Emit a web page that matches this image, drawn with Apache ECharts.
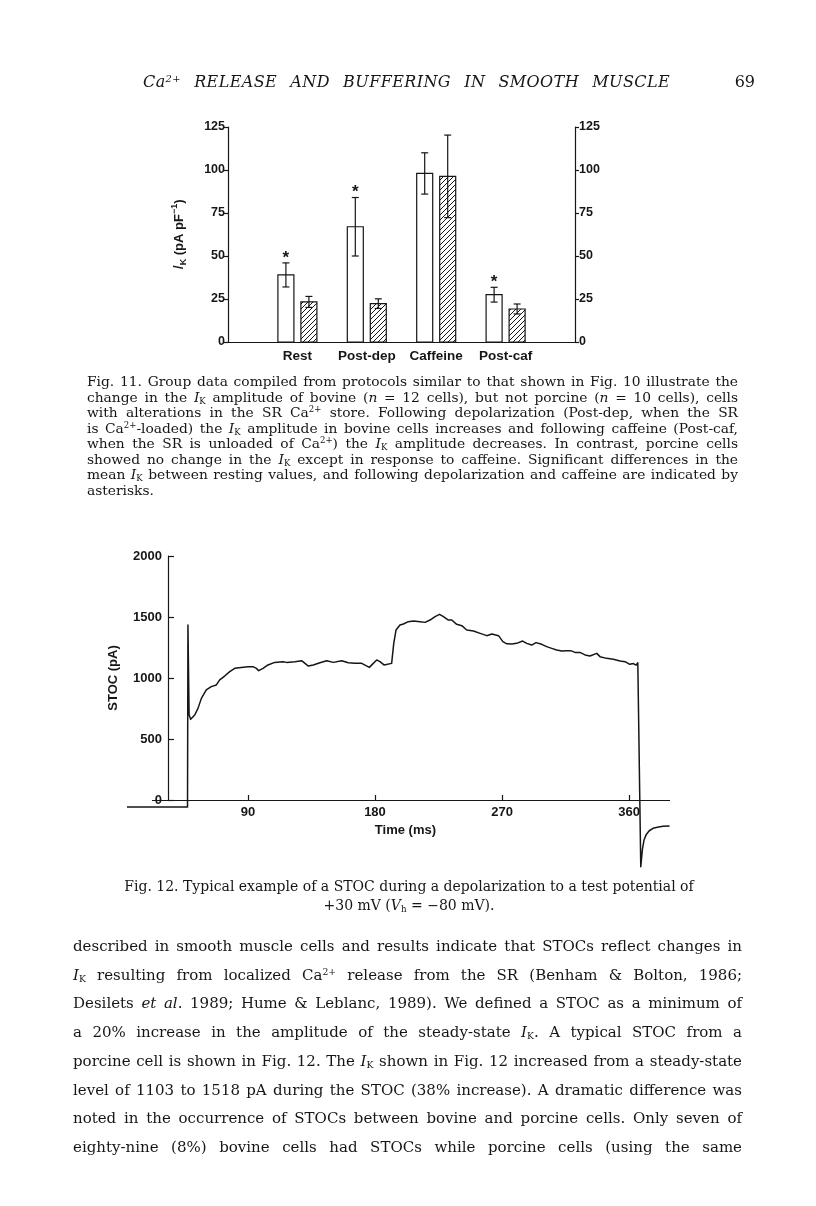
<!DOCTYPE html>
<html>
<head>
<meta charset="utf-8">
<script src="https://cdn.jsdelivr.net/npm/echarts@6/dist/echarts.min.js"></script>
<style>
  html, body { margin: 0; padding: 0; background: #fff; }
  #page { position: relative; width: 816px; height: 1206px; overflow: hidden; color: #161616; font-family: "DejaVu Serif", serif; }
  #chart { position: absolute; left: 0; top: 0; width: 816px; height: 1206px; }
  .txt { position: absolute; }
  .just div { text-align: justify; text-align-last: justify; }
  .just div.last { text-align-last: left; }
  sup { font-size: 0.62em; vertical-align: 0.55em; line-height: 0; }
  sub { font-size: 0.62em; vertical-align: -0.25em; line-height: 0; }
</style>
</head>
<body>
<div id="page">
  <div id="chart"></div>

  <div class="txt" style="left:143px;top:72px;width:527px;line-height:20px;font-size:16px;letter-spacing:0.4px;font-style:italic;text-align:justify;text-align-last:justify;">Ca<sup>2+</sup> RELEASE AND BUFFERING IN SMOOTH MUSCLE</div>
  <div class="txt" style="left:700px;top:72px;width:55px;line-height:20px;font-size:16px;text-align:right;">69</div>

  <div class="txt just" style="left:87px;top:374px;width:651px;line-height:15.5px;font-size:13.8px;">
    <div>Fig. 11. Group data compiled from protocols similar to that shown in Fig. 10 illustrate the</div>
    <div>change in the <i>I</i><sub>K</sub> amplitude of bovine (<i>n</i> = 12 cells), but not porcine (<i>n</i> = 10 cells), cells</div>
    <div>with alterations in the SR Ca<sup>2+</sup> store. Following depolarization (Post-dep, when the SR</div>
    <div>is Ca<sup>2+</sup>-loaded) the <i>I</i><sub>K</sub> amplitude in bovine cells increases and following caffeine (Post-caf,</div>
    <div>when the SR is unloaded of Ca<sup>2+</sup>) the <i>I</i><sub>K</sub> amplitude decreases. In contrast, porcine cells</div>
    <div>showed no change in the <i>I</i><sub>K</sub> except in response to caffeine. Significant differences in the</div>
    <div>mean <i>I</i><sub>K</sub> between resting values, and following depolarization and caffeine are indicated by</div>
    <div class="last">asterisks.</div>
  </div>

  <div class="txt" style="left:40px;top:877px;width:738px;line-height:19px;font-size:14px;text-align:center;">
    <div>Fig. 12. Typical example of a STOC during a depolarization to a test potential of</div>
    <div>+30 mV (<i>V</i><sub>h</sub> = &minus;80 mV).</div>
  </div>

  <div class="txt just" style="left:73px;top:932px;width:669px;line-height:28.7px;font-size:15px;">
    <div>described in smooth muscle cells and results indicate that STOCs reflect changes in</div>
    <div><i>I</i><sub>K</sub> resulting from localized Ca<sup>2+</sup> release from the SR (Benham &amp; Bolton, 1986;</div>
    <div>Desilets <i>et al</i>. 1989; Hume &amp; Leblanc, 1989). We defined a STOC as a minimum of</div>
    <div>a 20% increase in the amplitude of the steady-state <i>I</i><sub>K</sub>. A typical STOC from a</div>
    <div>porcine cell is shown in Fig. 12. The <i>I</i><sub>K</sub> shown in Fig. 12 increased from a steady-state</div>
    <div>level of 1103 to 1518 pA during the STOC (38% increase). A dramatic difference was</div>
    <div>noted in the occurrence of STOCs between bovine and porcine cells. Only seven of</div>
    <div>eighty-nine (8%) bovine cells had STOCs while porcine cells (using the same</div>
  </div>
</div>

<script>
// Fig. 11 - group data, open = bovine, hatched = porcine
const categories = ['Rest', 'Post-dep', 'Caffeine', 'Post-caf'];
const bovineMean = [39, 67, 98, 27.5];
const bovineErr = [7, 17, 12, 4.3];
const bovineStar = [1, 1, 0, 1];
const porcineMean = [23.3, 22.3, 96.3, 19.2];
const porcineErr = [3.2, 2.8, 24, 2.9];

// Fig. 12 - STOC trace, time (ms) and current (pA)
const stocTime = [
  4.3, 47.2, 47.5, 48.3, 49.4, 52.3, 54.6, 57.0, 60.5, 64.0, 67.6, 70.0, 73.5, 77.1, 80.6,
  85.3, 90.0, 93.6, 96.0, 97.6, 100.7, 104.2, 108.9, 114.8, 117.4, 123.3, 128.0, 132.8,
  136.3, 141.0, 145.8, 150.5, 156.4, 161.1, 165.8, 170.6, 176.0, 181.2, 183.5, 186.4,
  191.8, 192.6, 193.3, 194.9, 197.7, 200.1, 203.6, 207.2, 211.9, 215.5, 219.0, 222.6,
  225.7, 228.5, 232.0, 234.4, 237.9, 241.5, 245.0, 249.8, 254.5, 259.2, 262.8, 267.5,
  270.6, 273.4, 276.9, 280.4, 284.6, 287.5, 291.0, 294.1, 298.1, 301.6, 305.2, 308.7,
  312.3, 315.8, 318.6, 321.7, 325.2, 328.8, 332.3, 337.1, 339.4, 344.1, 348.9, 353.6,
  357.2, 360.5, 363.0, 365.0, 366.2, 366.8, 368.3, 369.5, 370.6, 372.2, 374.3, 377.0,
  380.0, 384.0, 388.7
];
const stocCurrent = [
  -57, -57, 1434, 700, 661, 697, 751, 833, 902, 929, 943, 984, 1016, 1052, 1079,
  1087, 1093, 1093, 1079, 1060, 1079, 1107, 1128, 1134, 1128, 1134, 1142, 1098,
  1107, 1125, 1142, 1128, 1142, 1125, 1120, 1120, 1087, 1148, 1134, 1107,
  1120, 1125, 1284, 1393, 1434, 1443, 1462, 1467, 1462, 1456, 1475, 1503,
  1522, 1503, 1475, 1475, 1440, 1429, 1393, 1385, 1366, 1347, 1361, 1347,
  1298, 1280, 1279, 1284, 1303, 1284, 1270, 1290, 1276, 1257, 1243, 1230,
  1221, 1224, 1224, 1210, 1210, 1189, 1180, 1202, 1175, 1161, 1153, 1139,
  1134, 1112, 1118, 1105, 1125, 1110, -547, -400, -328, -282, -252, -232,
  -224, -216, -213
];
const stocTicks = [90, 180, 270, 360];
// the time axis line starts a little before the current axis
const stocAxisSpan = [22, 389];

const ink = '#161616';
const sans = '"Liberation Sans", Arial, sans-serif';

// diagonal hatching for the porcine bars
const hatch = document.createElement('canvas');
hatch.width = hatch.height = 5;
const hctx = hatch.getContext('2d');
hctx.strokeStyle = ink;
hctx.lineWidth = 1;
hctx.beginPath();
hctx.moveTo(0, 5); hctx.lineTo(5, 0);
hctx.moveTo(-1, 1); hctx.lineTo(1, -1);
hctx.moveTo(4, 6); hctx.lineTo(6, 4);
hctx.stroke();
const hatchFill = { image: hatch, repeat: 'repeat' };

function barRenderer(shift, fill) {
  return function (params, api) {
    const x = api.value(0);
    const m = api.value(1);
    const e = api.value(2);
    const top = api.coord([x, m]);
    const base = api.coord([x, 0]);
    const hi = api.coord([x, m + e])[1];
    const lo = api.coord([x, m - e])[1];
    const cx = top[0] + shift;
    const w = 16;
    const line = { stroke: ink, lineWidth: 1.2 };
    const children = [
      { type: 'rect', shape: { x: cx - w / 2, y: top[1], width: w, height: base[1] - top[1] },
        style: { fill: fill, stroke: ink, lineWidth: 1.2 } },
      { type: 'line', shape: { x1: cx, y1: hi, x2: cx, y2: lo }, style: line },
      { type: 'line', shape: { x1: cx - 3.5, y1: hi, x2: cx + 3.5, y2: hi }, style: line },
      { type: 'line', shape: { x1: cx - 3.5, y1: lo, x2: cx + 3.5, y2: lo }, style: line }
    ];
    if (api.value(3)) {
      children.push({
        type: 'text',
        style: { text: '*', x: cx, y: hi - 5, align: 'center', verticalAlign: 'middle',
                 font: 'bold 17px ' + sans, fill: ink }
      });
    }
    return { type: 'group', children: children };
  };
}

const tickLabel = { color: ink, fontSize: 12.5, fontWeight: 'bold', fontFamily: sans };

const chart = echarts.init(document.getElementById('chart'), null, { renderer: 'canvas' });
chart.setOption({
  animation: false,
  backgroundColor: 'transparent',
  grid: [
    { left: 228, top: 127, width: 347, height: 215 },
    { left: 120.9, top: 556, width: 549.1, height: 244 }
  ],
  xAxis: [
    {
      gridIndex: 0, type: 'value', min: 0, max: 5, interval: 1,
      axisLine: { lineStyle: { color: ink, width: 1.2 } },
      axisTick: { show: false },
      splitLine: { show: false },
      axisLabel: {
        margin: 7, color: ink, fontSize: 13.5, fontWeight: 'bold', fontFamily: sans,
        formatter: (v) => categories[v - 1] || ''
      }
    },
    {
      gridIndex: 1, type: 'value', min: 0, max: 389,
      axisLine: { show: false },
      axisTick: { inside: true, length: 5, customValues: stocTicks, lineStyle: { color: ink, width: 1.2 } },
      axisLabel: { customValues: stocTicks, margin: 6, color: ink, fontSize: 13, fontWeight: 'bold', fontFamily: sans },
      splitLine: { show: false },
      name: 'Time (ms)', nameLocation: 'middle', nameGap: 24,
      nameTextStyle: { color: ink, fontSize: 13, fontWeight: 'bold', fontFamily: sans, padding: [0, 0, 0, 20] }
    }
  ],
  yAxis: [
    {
      gridIndex: 0, type: 'value', position: 'left', min: 0, max: 125, interval: 25,
      axisLine: { show: true, lineStyle: { color: ink, width: 1.2 } },
      axisTick: { show: true, length: 4, lineStyle: { color: ink, width: 1.2 } },
      axisLabel: Object.assign({ margin: 3 }, tickLabel),
      splitLine: { show: false },
      name: '{it|I}{sub|K} (pA pF{sup|\u22121})',
      nameLocation: 'middle', nameRotate: 90, nameGap: 40,
      nameTextStyle: {
        color: ink, fontSize: 13, fontWeight: 'bold', fontFamily: sans, lineHeight: 18,
        rich: {
          it: { fontStyle: 'italic', fontWeight: 'normal', fontSize: 15, fontFamily: sans, lineHeight: 18, color: ink },
          sub: { fontSize: 9, fontWeight: 'bold', fontFamily: sans, verticalAlign: 'bottom', lineHeight: 18, color: ink },
          sup: { fontSize: 9, fontWeight: 'bold', fontFamily: sans, verticalAlign: 'top', lineHeight: 18, color: ink }
        }
      }
    },
    {
      gridIndex: 0, type: 'value', position: 'right', min: 0, max: 125, interval: 25,
      axisLine: { show: true, lineStyle: { color: ink, width: 1.2 } },
      axisTick: { show: true, length: 4, lineStyle: { color: ink, width: 1.2 } },
      axisLabel: Object.assign({ margin: 4 }, tickLabel),
      splitLine: { show: false }
    },
    {
      gridIndex: 1, type: 'value', position: 'left', offset: -47.1, min: 0, max: 2000, interval: 500,
      axisLine: { show: true, onZero: false, lineStyle: { color: ink, width: 1.2 } },
      axisTick: { show: true, inside: true, length: 6, lineStyle: { color: ink, width: 1.2 } },
      axisLabel: { margin: 6, color: ink, fontSize: 13, fontWeight: 'bold', fontFamily: sans, formatter: (v) => String(v) },
      splitLine: { show: false },
      name: 'STOC (pA)', nameLocation: 'middle', nameRotate: 90, nameGap: 48,
      nameTextStyle: { color: ink, fontSize: 13, fontWeight: 'bold', fontFamily: sans }
    }
  ],
  series: [
    {
      name: 'Bovine', type: 'custom', xAxisIndex: 0, yAxisIndex: 0,
      renderItem: barRenderer(-11.5, '#fff'),
      data: categories.map((c, i) => [i + 1, bovineMean[i], bovineErr[i], bovineStar[i]]),
      encode: { x: 0, y: 1 }
    },
    {
      name: 'Porcine', type: 'custom', xAxisIndex: 0, yAxisIndex: 0,
      renderItem: barRenderer(11.5, hatchFill),
      data: categories.map((c, i) => [i + 1, porcineMean[i], porcineErr[i], 0]),
      encode: { x: 0, y: 1 }
    },
    {
      name: 'STOC', type: 'line', xAxisIndex: 1, yAxisIndex: 2,
      data: stocTime.map((t, i) => [t, stocCurrent[i]]),
      showSymbol: false, clip: false,
      lineStyle: { color: ink, width: 1.5, join: 'round' },
      markLine: {
        silent: true, symbol: 'none', label: { show: false },
        lineStyle: { color: ink, width: 1.2, type: 'solid' },
        data: [[{ coord: [stocAxisSpan[0], 0] }, { coord: [stocAxisSpan[1], 0] }]]
      }
    }
  ]
});
</script>
</body>
</html>
